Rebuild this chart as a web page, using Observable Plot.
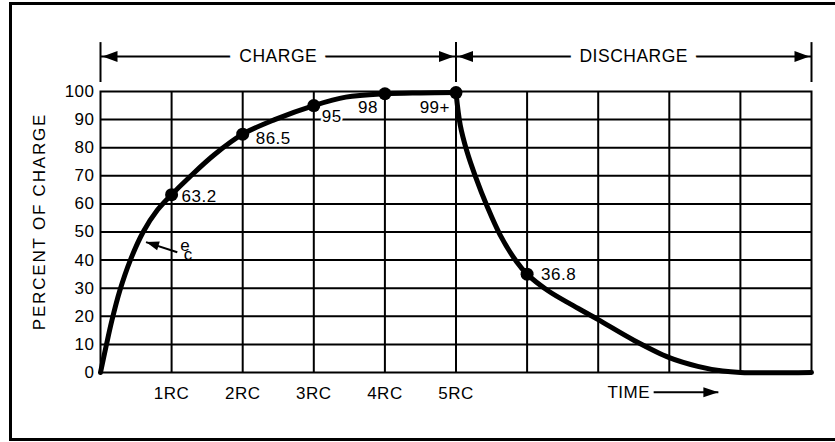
<!DOCTYPE html>
<html><head><meta charset="utf-8">
<script src="https://cdn.jsdelivr.net/npm/d3@7"></script>
<script src="https://cdn.jsdelivr.net/npm/@observablehq/plot@0.6"></script>
<style>
html,body{margin:0;padding:0;background:#fff;overflow:hidden;}
#wrap{position:relative;width:835px;height:442px;overflow:hidden;}
#border{position:absolute;left:8.5px;top:1.8px;width:832px;height:439.7px;border:3px solid #000;box-sizing:border-box;pointer-events:none;}
</style></head>
<body><div id="wrap"><div id="chart"></div><div id="border"></div></div>
<script>
// ---- data ----
const rcTicks = [1, 2, 3, 4, 5];
const rcLabels = ["1RC", "2RC", "3RC", "4RC", "5RC"];
const pctTicks = [0, 10, 20, 30, 40, 50, 60, 70, 80, 90, 100];
const gridTimes = [1, 2, 3, 4, 5, 6, 7, 8, 9];
const gridPcts = [10, 20, 30, 40, 50, 60, 70, 80, 90];

const chargeTime = [0, 0.08, 0.16, 0.27, 0.42, 0.6, 0.8, 1, 1.25, 1.6, 2, 2.45, 3, 3.45, 4, 4.5, 5];
const chargePct  = [0, 9.5, 18.5, 29, 40, 50, 57.8, 63.3, 69.5, 77.5, 84.8, 90, 95, 98, 99.2, 99.5, 99.6];
const dischargeTime = [5, 5.06, 5.15, 5.27, 5.44, 5.62, 5.85, 6, 6.3, 6.65, 7, 7.5, 8, 8.4, 8.75, 9, 10];
const dischargePct  = [99.6, 88, 79, 70, 59, 49, 39.5, 35, 29, 23.8, 18.8, 11.5, 5.3, 2.2, 0.5, 0, 0];

const markerTime  = [1, 2, 3, 4, 5, 6];
const markerPct   = [63.3, 84.8, 95, 99.2, 99.6, 35];
const markerLabel = ["63.2", "86.5", "95", "98", "99+", "36.8"];

const phaseName  = ["CHARGE", "DISCHARGE"];
const phaseStart = [0, 5];
const phaseEnd   = [5, 10];

// annotation anchors (data units)
const bracketLevel = 112.5, bracketLow = 103.2, bracketHigh = 117.4;
const timeLabelAt = 7.13, timeArrowFrom = 7.78, timeArrowTo = 8.69, timeLevel = -7;
const ecTipT = 0.64, ecTipPct = 46.4, ecTailT = 1.08, ecTailPct = 42.8;
const ecLabelT = 1.12, ecLabelPct = 43.1, ecSubT = 1.17, ecSubPct = 40.1;

// ---- styles ----
const labelDx = [10, 13, 8, -7, -6, 14];
const labelDy = [2, 4.5, 11, 14, 15, 0.5];
const labelAnchor = ["start", "start", "start", "end", "end", "start"];
const labelHalo = [0, 0, 4, 0, 0, 0];
const FS = 17;

// ---- tables ----
const curveRows = [
  ...chargeTime.map((t, i) => ({t, pct: chargePct[i], phase: "charge"})),
  ...dischargeTime.map((t, i) => ({t, pct: dischargePct[i], phase: "discharge"}))
];
const markerRows = markerTime.map((t, i) => ({t, pct: markerPct[i], label: markerLabel[i]}));
const phases = phaseName.map((name, i) => ({name, start: phaseStart[i], end: phaseEnd[i]}));
const heads = phases.flatMap(p => [{x: p.start, angle: 180}, {x: p.end, angle: 0}]);

const bigHead = {draw(ctx) { ctx.moveTo(-2, 0); ctx.lineTo(-17, -5.5); ctx.lineTo(-17, 5.5); ctx.closePath(); }};
const timeHead = {draw(ctx) { ctx.moveTo(0, 0); ctx.lineTo(-15, -5); ctx.lineTo(-15, 5); ctx.closePath(); }};
const smallHead = {draw(ctx) { ctx.moveTo(0, 0); ctx.lineTo(-13, -4.5); ctx.lineTo(-13, 4.5); ctx.closePath(); }};

const chart = Plot.plot({
  width: 835, height: 442,
  marginTop: 91, marginRight: 24, marginBottom: 70, marginLeft: 100,
  style: {fontFamily: "'Liberation Sans', Arial, sans-serif", fontSize: "17px", color: "black", background: "white", letterSpacing: "0.5px"},
  x: {domain: [0, 10], label: null},
  y: {domain: [0, 100], label: null},
  marks: [
    Plot.ruleX(gridTimes, {stroke: "black", strokeWidth: 2}),
    Plot.ruleY(gridPcts, {stroke: "black", strokeWidth: 2}),
    Plot.frame({stroke: "black", strokeWidth: 2}),
    Plot.axisY(pctTicks, {tickSize: 0, tickPadding: 6, fontSize: FS, label: null}),
    Plot.axisX(rcTicks, {tickSize: 0, tickPadding: 14, fontSize: FS, label: null, tickFormat: d => rcLabels[rcTicks.indexOf(d)]}),
    Plot.text(["PERCENT OF CHARGE"], {frameAnchor: "left", textAnchor: "middle", dx: -61, dy: -10.5, rotate: -90, text: d => d, fontSize: FS, fill: "black"}),
    // top bracket
    Plot.ruleX([0, 5, 10], {y1: bracketLow, y2: bracketHigh, stroke: "black", strokeWidth: 2}),
    Plot.ruleY(phases, {x1: "start", x2: "end", y: bracketLevel, stroke: "black", strokeWidth: 2}),
    Plot.dot(heads, {x: "x", y: bracketLevel, symbol: bigHead, rotate: "angle", fill: "black", stroke: "none"}),
    Plot.text(phases, {x: d => (d.start + d.end) / 2, y: bracketLevel, text: "name", fontSize: 17.5, fill: "black", stroke: "white", strokeWidth: 20}),
    // curve
    Plot.line(curveRows, {x: "t", y: "pct", z: "phase", curve: "catmull-rom", stroke: "black", strokeWidth: 5, strokeLinejoin: "round"}),
    // labels
    ...markerRows.map((d, i) => Plot.text([d], {x: "t", y: "pct", text: "label", dx: labelDx[i], dy: labelDy[i], textAnchor: labelAnchor[i], fontSize: FS, fill: "black", stroke: labelHalo[i] ? "white" : "none", strokeWidth: labelHalo[i]})),
    Plot.dot(markerRows, {x: "t", y: "pct", r: 6.5, fill: "black"}),
    // e_c pointer
    Plot.link([0], {x1: ecTailT, y1: ecTailPct, x2: ecTipT, y2: ecTipPct, stroke: "black", strokeWidth: 2}),
    Plot.dot([0], {x: ecTipT, y: ecTipPct, symbol: smallHead, rotate: 197, fill: "black", stroke: "none"}),
    Plot.text(["e"], {x: ecLabelT, y: ecLabelPct, text: d => d, textAnchor: "start", lineAnchor: "bottom", fontSize: FS, fill: "black"}),
    Plot.text(["c"], {x: ecSubT, y: ecSubPct, text: d => d, textAnchor: "start", lineAnchor: "bottom", fontSize: FS, fill: "black"}),
    // TIME arrow
    Plot.text(["TIME"], {x: timeLabelAt, y: timeLevel, text: d => d, textAnchor: "start", lineAnchor: "middle", fontSize: FS, fill: "black"}),
    Plot.link([0], {x1: timeArrowFrom, y1: timeLevel, x2: timeArrowTo, y2: timeLevel, stroke: "black", strokeWidth: 2}),
    Plot.dot([0], {x: timeArrowTo, y: timeLevel, symbol: timeHead, fill: "black", stroke: "none"})
  ]
});
d3.select(chart).selectAll("text").filter(function () { return this.textContent === "PERCENT OF CHARGE"; }).attr("letter-spacing", "1.8px");
document.getElementById("chart").append(chart);
</script></body></html>
